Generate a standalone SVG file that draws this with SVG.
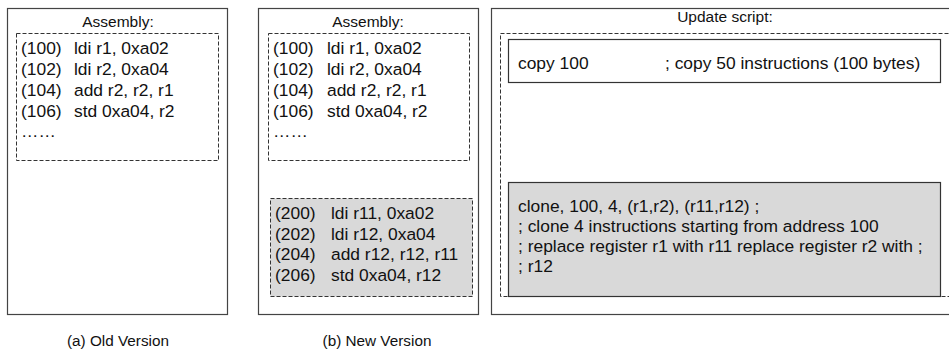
<svg xmlns="http://www.w3.org/2000/svg" width="949" height="350" viewBox="0 0 949 350">
<style>
text{font-family:"Liberation Sans",Arial,sans-serif;fill:#111;}
.t{font-size:15.5px;text-anchor:middle;}
.c{font-size:17.4px;}
.cap{font-size:15.3px;text-anchor:middle;}
.box{fill:#fff;stroke:#444;stroke-width:1.2;}
.dash{fill:none;stroke:#333;stroke-width:1;stroke-dasharray:4,2;}
.gdash{fill:#d9d9d9;stroke:#333;stroke-width:1;stroke-dasharray:4,2;}
.solid{fill:#fff;stroke:#333;stroke-width:1.2;}
.gsolid{fill:#d9d9d9;stroke:#333;stroke-width:1.2;}
</style>
<rect width="949" height="350" fill="#fff"/>
<g id="old">
<rect class="box" x="7.5" y="8.5" width="220" height="306"/>
<text class="t" x="118" y="27">Assembly:</text>
<rect class="dash" x="16.5" y="33.5" width="202" height="127"/>
<text class="c" x="21" y="54">(100)</text><text class="c" x="74" y="54">ldi r1, 0xa02</text>
<text class="c" x="21" y="75">(102)</text><text class="c" x="74" y="75">ldi r2, 0xa04</text>
<text class="c" x="21" y="96">(104)</text><text class="c" x="74" y="96">add r2, r2, r1</text>
<text class="c" x="21" y="117">(106)</text><text class="c" x="74" y="117">std 0xa04, r2</text>
<text class="c" x="21" y="137">……</text>
<text class="cap" x="118" y="346">(a) Old Version</text>
</g>
<g id="new">
<rect class="box" x="258.5" y="8.5" width="220" height="306"/>
<text class="t" x="368" y="27">Assembly:</text>
<rect class="dash" x="268.5" y="33.5" width="201" height="127"/>
<text class="c" x="273" y="54">(100)</text><text class="c" x="327" y="54">ldi r1, 0xa02</text>
<text class="c" x="273" y="75">(102)</text><text class="c" x="327" y="75">ldi r2, 0xa04</text>
<text class="c" x="273" y="96">(104)</text><text class="c" x="327" y="96">add r2, r2, r1</text>
<text class="c" x="273" y="117">(106)</text><text class="c" x="327" y="117">std 0xa04, r2</text>
<text class="c" x="273" y="137">……</text>
<rect class="gdash" x="270.5" y="198.5" width="202" height="98"/>
<text class="c" x="275" y="219">(200)</text><text class="c" x="331" y="219">ldi r11, 0xa02</text>
<text class="c" x="275" y="239.5">(202)</text><text class="c" x="331" y="239.5">ldi r12, 0xa04</text>
<text class="c" x="275" y="260">(204)</text><text class="c" x="331" y="260">add r12, r12, r11</text>
<text class="c" x="275" y="280.5">(206)</text><text class="c" x="331" y="280.5">std 0xa04, r12</text>
<text class="cap" x="377" y="346">(b) New Version</text>
</g>
<g id="script">
<rect class="box" x="491.5" y="8.5" width="470" height="306"/>
<text class="t" x="725" y="22">Update script:</text>
<rect class="dash" x="500.5" y="33.5" width="460" height="263"/>
<rect class="solid" x="508.5" y="39.5" width="432" height="43"/>
<text class="c" x="518" y="69">copy 100</text>
<text class="c" x="665" y="69">; copy 50 instructions (100 bytes)</text>
<rect class="gsolid" x="508.5" y="182.5" width="432" height="114"/>
<text class="c" x="518" y="212">clone, 100, 4, (r1,r2), (r11,r12) ;</text>
<text class="c" x="518" y="232">; clone 4 instructions starting from address 100</text>
<text class="c" x="518" y="252">; replace register r1 with r11 replace register r2 with ;</text>
<text class="c" x="518" y="272">; r12</text>
</g>
</svg>
